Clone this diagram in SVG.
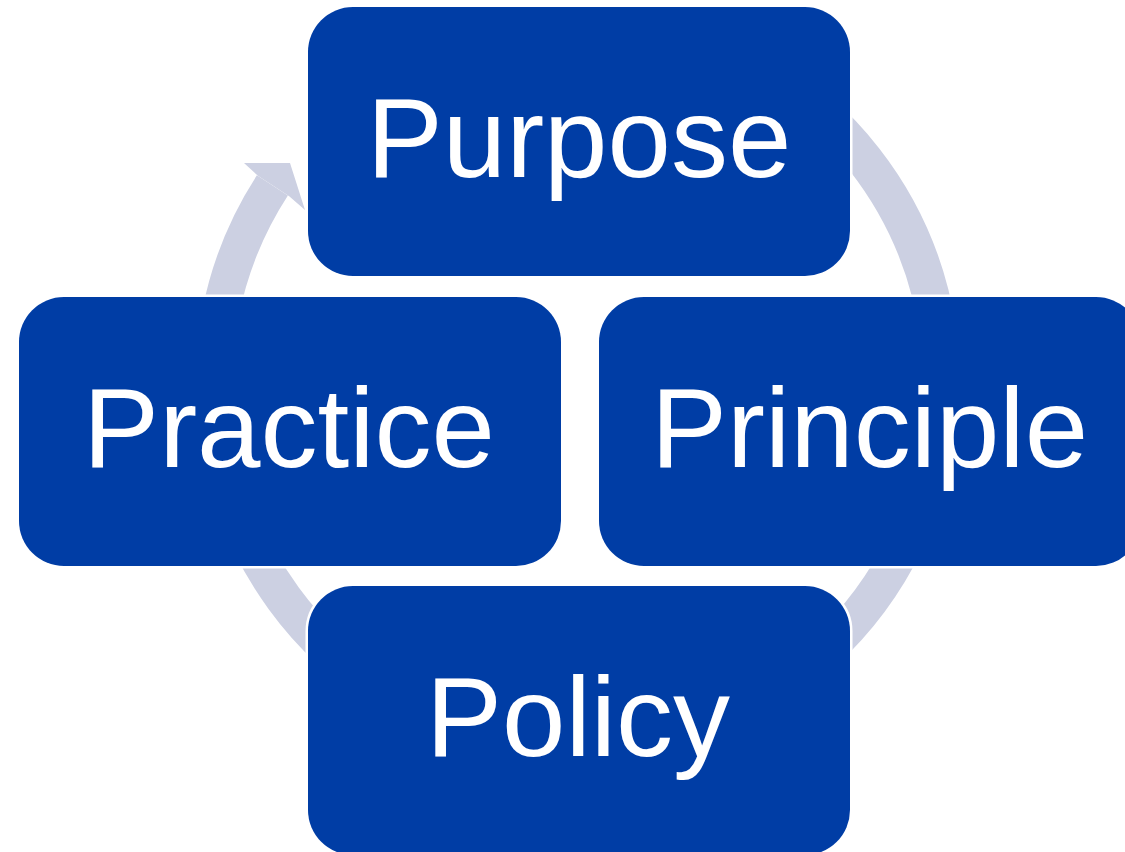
<svg xmlns="http://www.w3.org/2000/svg" width="1125" height="852" viewBox="0 0 1125 852">
  <style>
    .box { fill: #003DA5; stroke: #FFFFFF; stroke-width: 5; paint-order: stroke; }
    .lbl { font-family: "Liberation Sans", Arial, sans-serif; font-size: 114px; fill: #FFFFFF; text-anchor: middle; }
    .ring { fill: none; stroke: #CCD0E2; stroke-width: 37; }
    .head { fill: #CCD0E2; }
  </style>
  <rect width="1125" height="852" fill="#FFFFFF"/>
  <g id="connectors">
    <path class="ring" d="M 761 69.2 A 364 364 0 1 1 272.4 185.4"/>
    <polygon class="head" points="258.2,176.1 244,163 290,163 305,210 289.2,196.2"/>
  </g>
  <g id="node-purpose">
    <rect class="box" x="308" y="7" width="542" height="269" rx="45" ry="45"/>
    <text class="lbl" x="579" y="177">Purpose</text>
  </g>
  <g id="node-practice">
    <rect class="box" x="19" y="297" width="542" height="269" rx="45" ry="45"/>
    <text class="lbl" x="289" y="467">Practice</text>
  </g>
  <g id="node-principle">
    <rect class="box" x="599" y="297" width="542" height="269" rx="45" ry="45"/>
    <text class="lbl" x="869.5" y="467">Principle</text>
  </g>
  <g id="node-policy">
    <rect class="box" x="308" y="586" width="542" height="269" rx="45" ry="45"/>
    <text class="lbl" x="578" y="756">Policy</text>
  </g>
</svg>
